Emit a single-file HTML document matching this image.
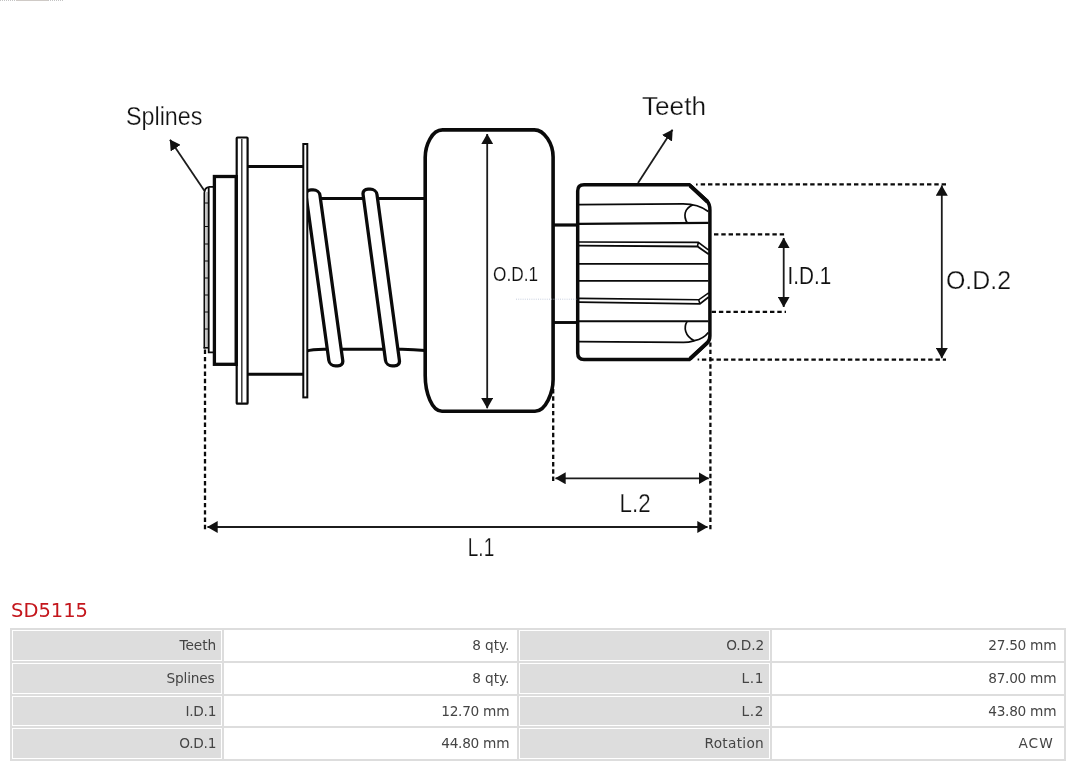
<!DOCTYPE html>
<html lang="en">
<head>
<meta charset="utf-8">
<title>SD5115</title>
<style>
html,body{margin:0;padding:0;background:#fff;}
body{width:1080px;height:767px;position:relative;overflow:hidden;font-family:"DejaVu Sans","Liberation Sans",sans-serif;}
#draw{position:absolute;left:0;top:0;width:1080px;height:590px;display:block;will-change:transform;}
#draw text{font-family:"Liberation Sans","DejaVu Sans",sans-serif;font-weight:normal;fill:#111;stroke:#fff;stroke-width:.25px;}
h1{will-change:transform;position:absolute;left:11px;top:599.4px;margin:0;font-weight:normal;font-size:19.5px;line-height:24px;color:#c4161c;letter-spacing:0;}
#tbl{will-change:transform;position:absolute;left:10px;top:628px;width:1056px;height:133px;background:#ddd;}
.c{position:absolute;box-sizing:border-box;border:1px solid #fff;font-size:13.7px;letter-spacing:-.28px;line-height:27px;color:#444;text-align:right;white-space:nowrap;}
.k{background:#ddd;padding-right:4.9px;}
.v{background:#fff;padding-right:6.8px;}
</style>
</head>
<body>
<svg id="draw" viewBox="0 0 1080 590" width="1080" height="590">
<!--DSTART-->
<defs>
<marker id="ah" viewBox="0 0 10.5 12" refX="10.2" refY="6" markerWidth="10.5" markerHeight="12" markerUnits="userSpaceOnUse" orient="auto-start-reverse"><path d="M0,0 L10.5,6 L0,12 Z" fill="#111"/></marker>
</defs>
<!-- faint artefacts -->
<path d="M0,0.5H16M48,0.5H64" stroke="#c4c4c4" stroke-width="1" stroke-dasharray="1 1" fill="none"/><path d="M16,0.5H48" stroke="#cfcac6" stroke-width="1" fill="none"/>
<g fill="none" stroke="#0a0a0a" stroke-linecap="butt" stroke-linejoin="miter">
<!-- spline stub -->
<path d="M213,186.8 L209.5,186.8 Q204.4,187.4 204.4,193 L204.4,348.6" stroke-width="1.8"/>
<rect x="205" y="192" width="3" height="155.5" fill="#c4c4c4" stroke="none"/>
<path d="M208.7,187.5 L208.7,352.3 L213,352.3" stroke-width="1.8"/>
<path d="M203.6,347.8 H208.7" stroke-width="1.6"/>
<path d="M204.4,203h4M204.4,226.5h4M204.4,244h4M204.4,261h4M204.4,278h4M204.4,295h4M204.4,312h4M204.4,329h4" stroke-width="1.2"/>
<!-- block -->
<rect x="214.4" y="176.5" width="22" height="187.8" fill="#fff" stroke-width="3.3"/>
<!-- lines between flanges -->
<path d="M248,166.6H304M248,374.2H304" stroke-width="3"/>
<!-- shaft -->
<path d="M306,198.6H425" stroke-width="3"/>
<path d="M306,351.2 Q312,349.3 324,349.2 L402,349.2 Q414,349.4 425,350.4" stroke-width="3"/>
<!-- coils -->
<g fill="#fff" stroke-width="3.3">
<rect x="-6.95" y="-88.05" width="13.9" height="176.1" rx="5.8" ry="5.4" transform="translate(324.4,277.9) skewX(7.85)"/>
<rect x="-6.95" y="-88.35" width="13.9" height="176.7" rx="5.8" ry="5.4" transform="translate(381.25,277.5) skewX(7.7)"/>
</g>
<!-- hide coil left overflow -->
<rect x="296" y="180" width="8" height="40" fill="#fff" stroke="none"/>
<path d="M248,166.6H304" stroke-width="3"/>
<!-- flange 1 -->
<rect x="236.7" y="137.5" width="10.9" height="266.2" rx="0.8" fill="#fff" stroke-width="2.2"/>
<line x1="236.3" y1="175" x2="236.3" y2="366" stroke-width="3.2"/>
<line x1="241.8" y1="139" x2="241.8" y2="403" stroke="#3c3c3c" stroke-width="1.5"/>
<!-- flange 2 -->
<rect x="303.3" y="144" width="4" height="253.4" fill="#fff" stroke-width="2"/>
<!-- big body -->
<path d="M425.2,157.6 C425.2,145 432,129.9 442.4,129.9 L534.3,129.9 C544.5,129.9 553.1,144 553.1,157 L553.1,379.6 C553.1,392 546,411.3 535,411.3 L442,411.3 C432,411.3 425.2,393 425.2,375.6 Z" fill="#fff" stroke-width="3.6"/>
<!-- connectors -->
<path d="M554,225H577" stroke-width="3.2"/>
<path d="M554,322.5H577" stroke-width="2.9"/>
<!-- pinion -->
<path d="M577.7,191 Q577.7,184.8 584,184.8 L689.4,184.8 L707,201 Q709.9,204 709.9,210 L709.9,336 Q709.9,340.5 707,343 L689.4,359.5 L584,359.5 Q577.7,359.5 577.7,353 Z" fill="#fff" stroke-width="3.5" stroke-linejoin="miter"/>
<path d="M690,185.6 L707.5,201.8 M707.5,342.6 L690,358.8" stroke-width="4"/>
<g stroke-width="1.7">
<path d="M579,204.7 L683,203.9 C692,203.9 701,206 708.3,211.5"/>
<path d="M687.2,223 C683.2,216 684.2,208.5 693,204.7"/>
<path d="M579,223.8 L708.5,222.8" stroke-width="2.2"/>
<path d="M579,242 L698.3,242.4 L708.7,250.2 M698.3,242.4 L697.5,246.4" stroke-width="1.6"/>
<path d="M579,245.7 L697.5,246.5 L708.7,254.2" stroke-width="1.8"/>
<path d="M579,263.9 H708.5"/>
<path d="M579,280.9 H708.5"/>
<path d="M579,298.4 L698.7,299.8 L708.7,292.8 M698.7,299.8 L699.9,303.9" stroke-width="1.6"/>
<path d="M579,302.1 L699.9,303.9 L708.7,297" stroke-width="1.8"/>
<path d="M579,321.3 H708.5" stroke-width="2.1"/>
<path d="M579,341.6 L683.5,342.4 C689,342.4 692,341.4 694.4,340.7 C700,339.5 705,337 708.3,332.5"/>
<path d="M687,321.6 C683.6,327 684.6,336 694.4,340.7"/>
</g>
</g>
<line x1="516" y1="299.2" x2="577" y2="299.2" stroke="#b9c3d6" stroke-width="1" stroke-dasharray="1 1.2" opacity=".8"/>
<!-- dashed extension lines -->
<g fill="none" stroke="#0a0a0a" stroke-width="2.3" stroke-dasharray="4.4 2.9">
<path d="M700.7,184.4H946"/>
<path d="M701.9,359.6H946"/>
<path d="M714,234.3H786"/>
<path d="M711.6,311.9H786"/>
<path d="M553.2,389V483"/>
<path d="M710.4,342.4V531"/>
<path d="M205,349.6V531"/>
</g>
<path d="M696,184.4h1.6M697.6,359.6h1.6" stroke="#0a0a0a" stroke-width="2" fill="none"/>
<!-- dimension arrows -->
<g fill="none" stroke="#1c1c1c" stroke-width="1.8" marker-start="url(#ah)" marker-end="url(#ah)">
<path d="M487.2,134V408.2"/>
<path d="M941.8,185.5V358.2"/>
<path d="M783.7,238V307"/>
<path d="M555.5,478.3H708.7"/>
<path d="M207.5,527H707.5"/>
</g>
<g fill="none" stroke="#1c1c1c" stroke-width="1.8" marker-end="url(#ah)">
<path d="M638,183 L672.5,129.7"/>
<path d="M204.4,190.8 L170,139.7"/>
</g>
<!-- labels -->
<text x="126" y="124.7" font-size="26.3" textLength="76.4" lengthAdjust="spacingAndGlyphs">Splines</text>
<text x="642" y="114.7" font-size="25" textLength="64" lengthAdjust="spacingAndGlyphs">Teeth</text>
<text x="493.1" y="280.6" font-size="20" style="stroke-width:.15px" textLength="45" lengthAdjust="spacingAndGlyphs">O.D.1</text>
<text x="787.6" y="283.7" font-size="24" style="stroke-width:.08px" textLength="43.6" lengthAdjust="spacingAndGlyphs">I.D.1</text>
<text x="946" y="288.7" font-size="25.8" textLength="65" lengthAdjust="spacingAndGlyphs">O.D.2</text>
<text x="619.6" y="511.7" font-size="25" textLength="31" lengthAdjust="spacingAndGlyphs">L.2</text>
<text x="467.8" y="555.8" font-size="25.8" textLength="26.4" lengthAdjust="spacingAndGlyphs">L.1</text>
<!--DEND-->
</svg>
<h1>SD5115</h1>
<div id="tbl">
<div class="c k" style="left:2px;top:2px;width:210px;height:31px;line-height:29px;letter-spacing:-.05px">Teeth</div>
<div class="c v" style="left:214px;top:2px;width:293px;height:31px;line-height:29px;letter-spacing:-.12px">8 qty.</div>
<div class="c k" style="left:509px;top:2px;width:251px;height:31px;line-height:29px;letter-spacing:-.05px">O.D.2</div>
<div class="c v" style="left:762px;top:2px;width:292px;height:31px;line-height:29px">27.50 mm</div>
<div class="c k" style="left:2px;top:35px;width:210px;height:31px;line-height:29px;letter-spacing:-.2px;padding-right:6.6px">Splines</div>
<div class="c v" style="left:214px;top:35px;width:293px;height:31px;line-height:29px;letter-spacing:-.12px">8 qty.</div>
<div class="c k" style="left:509px;top:35px;width:251px;height:31px;line-height:29px;letter-spacing:.6px">L.1</div>
<div class="c v" style="left:762px;top:35px;width:292px;height:31px;line-height:29px">87.00 mm</div>
<div class="c k" style="left:2px;top:68px;width:210px;height:30px;line-height:28px">I.D.1</div>
<div class="c v" style="left:214px;top:68px;width:293px;height:30px;line-height:28px">12.70 mm</div>
<div class="c k" style="left:509px;top:68px;width:251px;height:30px;line-height:28px;letter-spacing:.6px">L.2</div>
<div class="c v" style="left:762px;top:68px;width:292px;height:30px;line-height:28px">43.80 mm</div>
<div class="c k" style="left:2px;top:100px;width:210px;height:31px;line-height:29px">O.D.1</div>
<div class="c v" style="left:214px;top:100px;width:293px;height:31px;line-height:29px">44.80 mm</div>
<div class="c k" style="left:509px;top:100px;width:251px;height:31px;line-height:29px;letter-spacing:.3px">Rotation</div>
<div class="c v" style="left:762px;top:100px;width:292px;height:31px;line-height:29px;letter-spacing:1.05px;padding-right:9.2px">ACW</div>
</div>
</body>
</html>
